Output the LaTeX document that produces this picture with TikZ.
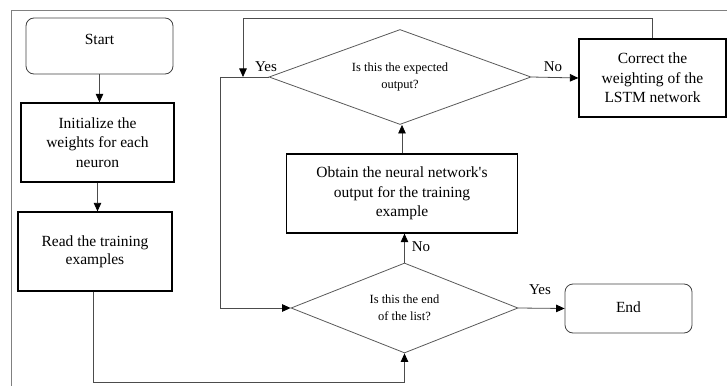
\documentclass[tikz,border=0pt]{standalone}
\usepackage{fontspec}
\setmainfont{Liberation Serif}
\usetikzlibrary{shapes.geometric,arrows.meta}
\newcommand{\straightquote}{\XeTeXglyph\XeTeXglyphindex "quotesingle"\relax}
\begin{document}
\begin{tikzpicture}[x=1pt,y=-1pt,
  boxtext/.style={font=\fontsize{15.5}{19.5}\selectfont, align=center},
  thickbox/.style={draw=black, line width=1.3pt, rectangle, inner sep=0pt, boxtext},
  roundbox/.style={draw=black!75, line width=0.8pt, rectangle, rounded corners=8pt, inner sep=0pt, boxtext},
  decision/.style={draw=black!65, line width=0.8pt, diamond, inner sep=0pt, align=center,
    font=\fontsize{12.5}{17}\selectfont},
  conn/.style={draw=black!70, line width=0.8pt},
  arr/.style={conn, -{Triangle[length=8.5pt,width=7.5pt,color=black]}},
  lbl/.style={font=\fontsize{15}{18}\selectfont, inner sep=1pt}
]
\useasboundingbox (0,0) rectangle (727,385);
% outer frame (partly cut)
\draw[black!50, line width=0.8pt] (11,390) -- (11,10) -- (740,10);

\node[roundbox, minimum width=147pt, minimum height=56pt] (start) at (99.5,46) {\raisebox{14pt}{Start}};
\node[thickbox, minimum width=153pt, minimum height=79pt] (init) at (97.5,142.5) {Initialize the\\weights for each\\neuron};
\node[thickbox, minimum width=154pt, minimum height=79pt] (read) at (95,251.5) {\raisebox{6pt}{\begin{tabular}{@{}c@{}}Read the training\\[-1pt]examples\end{tabular}}};
\node[decision, minimum width=262pt, minimum height=95pt, aspect=2.76] (exp) at (400,77) {Is this the expected\\output?};
\node[thickbox, minimum width=147pt, minimum height=78pt] (corr) at (652.5,78) {Correct the\\weighting of the\\LSTM network};
\node[thickbox, minimum width=231pt, minimum height=79pt] (obt) at (402,193.5) {Obtain the neural network\straightquote s\\output for the training\\example};
\node[decision, minimum width=227pt, minimum height=90pt, aspect=2.52] (endq) at (404.5,308) {Is this the end\\of the list?};
\node[roundbox, minimum width=127pt, minimum height=49pt] (end) at (628.5,308.5) {\raisebox{3pt}{End}};

\coordinate (b1) at (404.5,382);
\coordinate (lpt) at (220,77);
\coordinate (jn) at (243,77);
\coordinate (tp) at (243,18);

\draw[arr] (start.south) -- (start.south |- init.north);
\draw[arr] (init.south) -- (init.south |- read.north);
\draw[arr] ([xshift=-2pt]read.south) |- (b1) -- (endq.south);
\draw[arr] (endq.north) -- (endq.north |- obt.south);
\draw[arr] (obt.north) -- (obt.north |- exp.south);
\draw[arr] (exp.east) -- (corr.west);
\draw[arr] (endq.east) -- (end.west);
\draw[conn] (exp.west) -- (lpt);
\draw[arr] (lpt) |- (endq.west);
\draw[arr] (corr.north) |- (tp) -- (jn);

\node[lbl] (yes1) at (266,67) {Yes};
\node[lbl] (no1) at (553,67) {No};
\node[lbl] (no2) at (421,247) {No};
\node[lbl] (yes2) at (540,290) {Yes};
\end{tikzpicture}
\end{document}
